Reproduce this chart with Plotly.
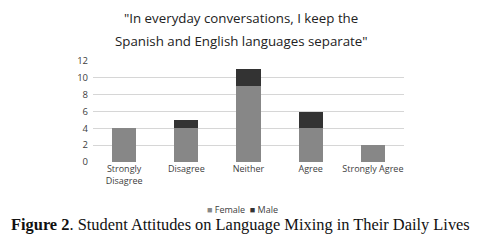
import plotly.graph_objects as go

categories = ["Strongly<br>Disagree", "Disagree", "Neither", "Agree", "Strongly Agree"]
female = [4, 4, 9, 4, 2]
male = [0, 1, 2, 2, 0]
y_ticks = [0, 2, 4, 6, 8, 10, 12]
female_color = "#878787"
male_color = "#333333"

fig = go.Figure()
fig.add_trace(go.Bar(x=categories, y=female, name="Female", showlegend=False,
                     marker=dict(color=female_color, line=dict(width=0))))
fig.add_trace(go.Bar(x=categories, y=male, name="Male", showlegend=False,
                     marker=dict(color=male_color, line=dict(width=0))))

legend_text = (f'<span style="color:{female_color}">■</span> Female  '
               f'<span style="color:{male_color}">■</span> Male')

fig.update_layout(
    barmode="stack",
    bargap=0.61,
    width=483, height=248,
    margin=dict(l=93, r=79, t=61, b=86),
    paper_bgcolor="white", plot_bgcolor="white",
    font=dict(family="Open Sans", color="#404040", size=9),
    showlegend=False,
    annotations=[
        dict(text="\"In everyday conversations, I keep the",
             xref="paper", yref="paper", x=0.476, y=1.0, yshift=43, xanchor="center", yanchor="middle",
             showarrow=False, font=dict(family="Open Sans", size=13.3, color="#222222")),
        dict(text="Spanish and English languages separate\"",
             xref="paper", yref="paper", x=0.476, y=1.0, yshift=20, xanchor="center", yanchor="middle",
             showarrow=False, font=dict(family="Open Sans", size=13.3, color="#222222")),
        dict(text=legend_text,
             xref="paper", yref="paper", x=0.48, y=0, yshift=-47, xanchor="center", yanchor="middle",
             showarrow=False, font=dict(family="Open Sans", size=9, color="#404040")),
        dict(text="<b>Figure 2</b>. Student Attitudes on Language Mixing in Their Daily Lives",
             xref="paper", yref="paper", x=0.475, y=0, yshift=-62, xanchor="center", yanchor="middle",
             showarrow=False, font=dict(family="Liberation Serif", size=16.4, color="#111111")),
    ],
)
fig.update_yaxes(range=[0, 12], tickvals=y_ticks, showgrid=True, gridcolor="#d6d6d6", gridwidth=1,
                 zeroline=False, showline=False, ticks="", ticklabelstandoff=4,
                 tickfont=dict(size=9.5, color="#404040"))
fig.update_xaxes(showgrid=False, showline=False, ticks="", tickfont=dict(size=9, color="#404040"))

fig.write_html("out.html", config={"displayModeBar": False},
               post_script="document.body.style.margin='0';document.body.style.overflow='hidden';")
